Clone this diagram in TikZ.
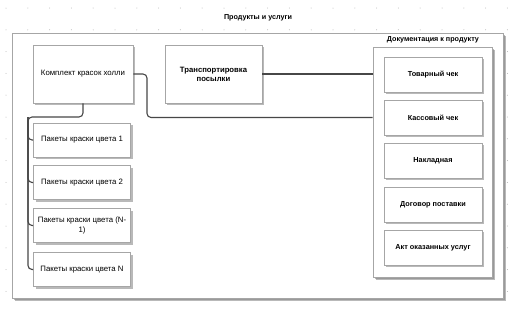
\documentclass[tikz,border=0pt]{standalone}
\usepackage{fontspec}
\setmainfont{Liberation Sans}
\usetikzlibrary{shadows}
\begin{document}
\begin{tikzpicture}[x=1pt,y=-1pt,
  base/.style={draw=black!35, line width=0.6pt, fill=white, inner sep=1pt, align=center,
    drop shadow={shadow xshift=2.4pt, shadow yshift=-2.4pt, fill=black!50, opacity=0.55}},
  lbox/.style={base, minimum width=97pt, minimum height=34pt, font=\fontsize{7.8}{9.5}\selectfont},
  rbox/.style={base, minimum width=98pt, minimum height=35pt, font=\fontsize{7.3}{8.5}\selectfont\bfseries},
  cont/.style={base, drop shadow={shadow xshift=3pt, shadow yshift=-3pt, fill=black!50, opacity=0.55}},
  conn/.style={draw=black!72, line width=1.1pt, rounded corners=4pt},
  ttl/.style={font=\fontsize{7.2}{8.5}\selectfont\bfseries, inner sep=0pt},
  griddot/.style={fill=black!30}
]
\useasboundingbox (0,0) rectangle (523,311);
% dotted background grid
\foreach \i in {0,...,23} {
  \foreach \j in {0,...,14} {
    \fill[griddot] (6+21.8*\i, 8+21.8*\j) circle (0.5pt);
  }
}
% outer container
\node[cont, minimum width=491pt, minimum height=265pt] (outer) at (257.5,165.5) {};
\node[ttl] (outerT) at (258,18) {Продукты и услуги};
% doc container
\node[cont, minimum width=119pt, minimum height=230pt] (doc) at (432.5,162) {};
\node[ttl] (docT) at (433,39.5) {Документация к продукту};
% left boxes
\node[lbox, minimum width=100pt, minimum height=58pt] (komp) at (83,74) {Комплект красок холли};
\node[lbox, minimum width=97pt, minimum height=58pt, font=\fontsize{7.7}{9}\selectfont\bfseries] (trans) at (213.5,74) {Транспортировка\\посылки};
\node[lbox] (p1) at (82,140) {Пакеты краски цвета 1};
\node[lbox] (p2) at (82,182.5) {Пакеты краски цвета 2};
\node[lbox] (p3) at (82,225.5) {Пакеты краски цвета (N-\\1)};
\node[lbox] (p4) at (82,269.5) {Пакеты краски цвета N};
% doc boxes
\node[rbox] (d1) at (433,74.5) {Товарный чек};
\node[rbox] (d2) at (433,117.5) {Кассовый чек};
\node[rbox] (d3) at (433,160.5) {Накладная};
\node[rbox] (d4) at (433,204.5) {Договор поставки};
\node[rbox] (d5) at (433,247.5) {Акт оказанных услуг};
% connectors
\coordinate (bus) at (28,117);
\coordinate (kbend) at (147,74);
\draw[conn] (trans.east) -- (doc.west |- trans.east);
\draw[conn] (komp.east) -- (kbend) |- (doc.west |- d2.center);
\draw[conn] (komp.south) |- (bus) |- (p4.west);
\draw[conn] (bus) |- (p1.west);
\draw[conn] (bus) |- (p2.west);
\draw[conn] (bus) |- (p3.west);
\end{tikzpicture}
\end{document}
